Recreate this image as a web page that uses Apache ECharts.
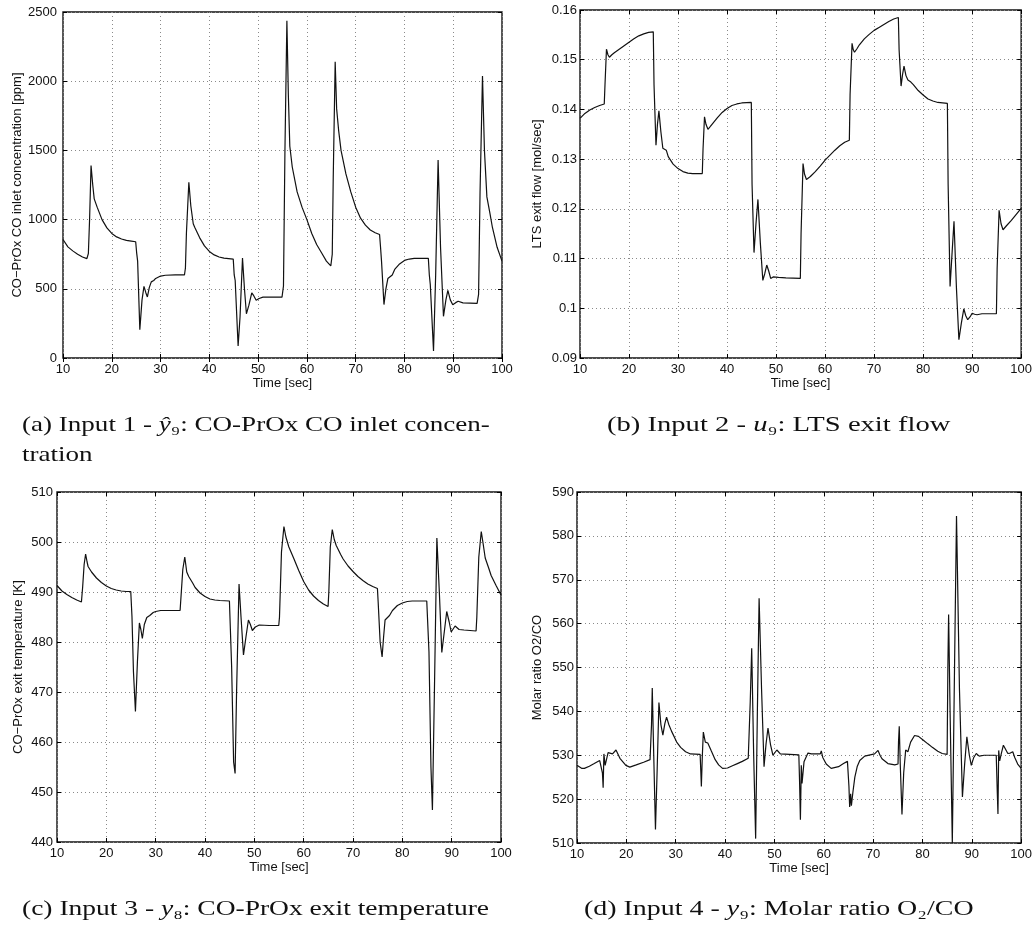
<!DOCTYPE html>
<html>
<head>
<meta charset="utf-8">
<script src="https://cdn.jsdelivr.net/npm/echarts@6/dist/echarts.min.js"></script>
<style>
html,body{margin:0;padding:0;background:#fff;}
#chart{width:1035px;height:926px;}
</style>
</head>
<body>
<div id="chart"></div>
<script>
// ---------- DATA ----------
const xTicks = { min: 10, max: 100, interval: 10 };

// (a) CO-PrOx CO inlet concentration [ppm]
const tA = [10,11,12,13,14,14.9,15.2,15.45,15.75,16.1,16.4,17,18,19,20,21,22,23,24,24.9,25.1,25.3,25.75,26.2,26.6,27.0,27.3,27.7,28.1,28.6,29,30,31,33,34.9,35.1,35.3,35.8,36.2,36.7,37,38,39,40,41,42,43,44.9,45.1,45.3,45.9,46.3,46.8,47.2,47.6,48.1,48.7,49.1,49.6,50.2,51,53,54.9,55.2,55.5,55.9,56.2,56.5,57,58,59,60,61,62,63,64,64.9,65.2,65.4,65.8,66.1,66.5,67,68,69,70,71,72,73,74,74.9,75.1,75.3,75.8,76.2,76.6,77,77.5,78,79,80,81,82,84.9,85.1,85.3,85.96,86.4,86.9,87.4,88,88.5,88.9,89.4,89.9,90.5,91,92,94.9,95.2,95.5,96,96.4,96.9,97.5,98,99,100];
const vA = [856,803,774,750,730,718,755,1000,1390,1250,1150,1090,1000,940,900,875,860,850,845,840,760,700,205,420,518,470,441,510,550,560,575,592,598,600,600,650,900,1270,1100,970,945,870,810,770,745,730,722,715,600,560,87,300,723,500,320,380,470,450,417,430,440,440,440,520,1500,2437,1900,1530,1380,1200,1090,1000,900,820,760,700,665,750,1300,2141,1800,1647,1500,1330,1200,1090,1010,960,925,905,892,800,700,386,500,574,565,600,640,680,705,715,720,720,600,530,51,600,1430,800,301,420,489,420,385,400,410,398,395,460,1200,2037,1500,1164,1050,950,800,700];
const yTicksA = { min: 0, max: 2500, interval: 500 };

// (b) LTS exit flow [mol/sec]
const tB = [10,11,12,13,14,14.95,15.1,15.4,15.7,16,16.5,17,18,19,20,21,22,23,24,24.95,25.1,25.5,25.8,26.1,26.5,26.9,27.3,27.6,28,29,30,31,32,33,34.95,35.1,35.4,35.7,36.1,36.6,37,38,39,40,41,42,43,44.95,45.1,45.5,45.9,46.3,46.8,47.3,47.7,48.1,48.5,48.9,49.4,49.8,50.5,52,54.95,55.1,55.5,55.8,56.2,57,58,59,60,61,62,63,64,64.95,65.1,65.5,65.75,66,66.5,67,68,69,70,71,72,73,74,74.95,75.1,75.5,75.8,76.1,76.5,76.9,77.5,78,79,80,81,82,83,84.95,85.1,85.5,85.9,86.3,86.8,87.3,87.8,88.3,88.7,89.1,89.6,90,90.5,91,92,94.95,95.1,95.5,95.9,96.3,97,98,99,100];
const vB = [0.1382,0.1392,0.1399,0.1404,0.1408,0.1411,0.145,0.1521,0.151,0.1505,0.151,0.1514,0.1521,0.1528,0.1535,0.1542,0.1548,0.1552,0.1555,0.1556,0.145,0.1328,0.137,0.1397,0.1355,0.1322,0.132,0.1318,0.1305,0.1290,0.1281,0.1275,0.1272,0.1271,0.1271,0.132,0.1385,0.137,0.136,0.1366,0.137,0.1383,0.1394,0.1402,0.1408,0.1411,0.1413,0.1414,0.125,0.1112,0.117,0.1219,0.113,0.1056,0.107,0.1087,0.1075,0.106,0.1063,0.1065,0.1062,0.1061,0.106,0.115,0.1291,0.127,0.1259,0.1265,0.1275,0.1286,0.1298,0.1308,0.1318,0.1327,0.1334,0.1338,0.143,0.1533,0.152,0.1515,0.1522,0.153,0.1542,0.1551,0.1559,0.1565,0.1571,0.1577,0.1582,0.1585,0.152,0.1447,0.147,0.1487,0.1468,0.1459,0.1455,0.145,0.1438,0.1429,0.1421,0.1417,0.1414,0.1412,0.125,0.1044,0.111,0.1175,0.104,0.0937,0.097,0.0999,0.0985,0.0977,0.0983,0.099,0.0988,0.0987,0.0989,0.0989,0.108,0.1197,0.117,0.1158,0.1166,0.1177,0.1189,0.1201];
const yTicksB = { min: 0.09, max: 0.16, interval: 0.01 };

// (c) CO-PrOx exit temperature [K]
const tC = [10,11,12,13,14,14.95,15.2,15.5,15.8,16.1,16.3,17,18,19,20,21,22,23,24,24.95,25.2,25.5,25.9,26.3,26.7,27.0,27.3,27.7,28.2,28.8,29.5,30,31,34.95,35.2,35.5,35.9,36.3,36.7,37.5,38,39,40,41,42,43,44.95,45.1,45.4,45.8,46.1,46.4,46.9,47.3,47.8,48.3,48.8,49.2,49.6,50.2,51,53,54.95,55.1,55.5,56,56.4,57,58,59,60,61,62,63,64,64.95,65.1,65.4,65.8,66.2,66.6,67.5,68,69,70,71,72,73,74,74.95,75.1,75.5,75.9,76.2,76.5,76.9,77.4,78,79,80,81,82,84.95,85.1,85.4,85.8,86.1,86.5,87.0,87.5,88.0,88.5,89.0,89.5,89.9,90.7,91.5,92.5,94.95,95.1,95.5,96,96.4,96.8,97.5,98,99,100];
const vC = [491.3,490.2,489.5,488.9,488.4,488.0,491,495.5,497.6,496,495.1,494,492.8,491.9,491.2,490.7,490.4,490.2,490.1,490.1,485,474,466.1,476,483.8,482.5,480.7,483.5,484.9,485.3,485.9,486.1,486.3,486.3,490,494.5,497.0,494,493.1,491.8,490.9,489.8,489.1,488.6,488.4,488.3,488.2,488,475,456,453.7,470,491.6,485,477.4,481,484.4,483.5,482.3,483,483.4,483.3,483.3,485,498,503.1,501,499,496.7,494.3,492.1,490.4,489.2,488.3,487.6,487.1,490,499,502.5,500.5,499.3,497.5,496.6,495.2,494.1,493.1,492.3,491.6,491.1,490.7,488,480,477.0,481,484.4,484.0,485.3,486.3,487.3,487.8,488.1,488.2,488.2,488,478,455,446.4,470,500.8,490,477.9,482,486.1,484,482.0,483.2,482.5,482.4,482.2,485,497,502.1,499.5,496.8,494.8,493.3,491.3,489.4];
const yTicksC = { min: 440, max: 510, interval: 10 };

// (d) Molar ratio O2/CO
const tD = [10,11,11.5,12.5,13.5,14.6,14.95,15.15,15.3,15.45,15.7,16.3,17.2,17.9,18.7,19.9,20.7,22,23.5,24.8,24.95,25.1,25.25,25.55,25.9,26.25,26.6,27.0,27.4,27.8,28.15,28.6,29.15,30.2,31,32,33,34.95,35.1,35.2,35.4,35.6,36.0,36.5,37.2,38,38.7,39.5,40.5,41.5,42.5,43.5,44.7,44.95,45.1,45.4,45.8,46.2,46.55,46.9,47.4,47.9,48.3,48.7,49.2,49.7,50.5,51.2,54.95,55.1,55.27,55.45,55.6,56.0,56.8,57.5,59.3,59.5,59.8,60.5,61.5,61.9,63,64,64.8,64.95,65.1,65.25,65.45,65.6,65.9,66.3,66.8,67.3,68.3,70.3,71.0,71.4,71.8,73.0,74.4,75.05,75.15,75.3,75.5,75.85,76.2,76.6,77.05,77.6,78.4,79.2,80,81.1,82,83.1,84,85.0,85.15,85.3,85.6,86.05,86.5,86.9,87.5,88.1,88.55,89.0,89.5,89.9,90.4,90.9,91.5,92.5,94.95,95.15,95.3,95.45,95.65,96.0,96.4,97.3,97.8,98.3,98.7,99.3,100];
const vD = [527.7,527.0,527.0,527.5,528.1,528.8,528.9,526,522.6,530.3,527.7,530.6,530.3,531.2,529.3,527.7,527.3,527.8,528.4,529.0,529.1,537,545.3,530,513.1,527,542,537,534.6,537.2,538.7,537,535.5,533,531.8,530.8,530.3,530.2,526,522.9,530,535.3,533.0,532.8,531,529,527.8,527.0,527.1,527.6,528.1,528.6,529.3,529.4,542,554.4,530,511.0,540,565.8,545,527.4,532.5,536.2,532.5,530.0,531.2,530.3,530.1,524,515.3,527.7,523.6,528.5,530.5,530.3,530.3,531.0,529.5,528,527,526.8,527.4,528.1,528.6,528.7,523,518.2,521.2,518.5,521.5,525,527.5,528.8,529.8,530.3,531.1,530,529.2,528.1,527.8,528.0,533,536.6,528,516.5,526,531.2,530.8,533,534.5,534.3,533.6,532.6,531.8,530.9,530.4,530.2,550,562.1,540,510,550,584.5,545,520.5,528,534.2,530,527.7,529.5,530.4,529.8,530,530.0,522,516.6,531.1,528.7,530.5,532.3,530.4,530.5,530.8,529.5,528,527];
const yTicksD = { min: 510, max: 590, interval: 10 };

const xName = 'Time [sec]';
const yNames = ['CO\u2212PrOx CO inlet concentration [ppm]', 'LTS exit flow [mol/sec]', 'CO\u2212PrOx exit temperature [K]', 'Molar ratio O2/CO'];

// ---------- LAYOUT ----------
const SANS = '"Liberation Sans", Arial, Helvetica, sans-serif';
const SERIF = '"Liberation Serif", "Times New Roman", serif';
const plain = v => String(v);
const panels = [
  { grid: { left: 63, top: 12, width: 439, height: 346 }, yt: yTicksA, t: tA, v: vA, nameGap: 38, labMargin: 6, fmt: plain },
  { grid: { left: 580, top: 10, width: 442, height: 348 }, yt: yTicksB, t: tB, v: vB, nameGap: 36, labMargin: 3, fmt: v => String(+v.toFixed(2)) },
  { grid: { left: 57, top: 492, width: 444, height: 350 }, yt: yTicksC, t: tC, v: vC, nameGap: 32, labMargin: 4, fmt: plain },
  { grid: { left: 577, top: 492, width: 445, height: 351 }, yt: yTicksD, t: tD, v: vD, nameGap: 33, labMargin: 3, fmt: plain }
];

const grids = [], xAxes = [], yAxes = [], series = [];
const tickStyle = { inside: true, length: 4, lineStyle: { color: '#000', width: 1 } };
const splitStyle = { show: true, lineStyle: { color: '#8a8a8a', type: [1, 3], width: 1 } };
const labStyle = { color: '#111', fontFamily: SANS, fontSize: 13 };
const nameStyle = { color: '#111', fontFamily: SANS, fontSize: 13 };

panels.forEach((p, i) => {
  grids.push(Object.assign({ show: true, borderColor: '#111', borderWidth: 1.4, backgroundColor: 'transparent' }, p.grid));
  xAxes.push({
    type: 'value', gridIndex: i, position: 'bottom', min: xTicks.min, max: xTicks.max, interval: xTicks.interval,
    axisLine: { show: false }, axisTick: tickStyle, splitLine: splitStyle,
    axisLabel: Object.assign({ margin: 5, formatter: plain }, labStyle),
    name: xName, nameLocation: 'middle', nameGap: 19, nameTextStyle: nameStyle
  });
  xAxes.push({
    type: 'value', gridIndex: i, position: 'top', min: xTicks.min, max: xTicks.max, interval: xTicks.interval,
    axisLine: { show: false }, axisTick: tickStyle, splitLine: { show: false }, axisLabel: { show: false }
  });
  yAxes.push({
    type: 'value', gridIndex: i, position: 'left', min: p.yt.min, max: p.yt.max, interval: p.yt.interval,
    axisLine: { show: false }, axisTick: tickStyle, splitLine: splitStyle,
    axisLabel: Object.assign({ margin: p.labMargin, formatter: p.fmt }, labStyle),
    name: yNames[i], nameLocation: 'middle', nameGap: p.nameGap, nameRotate: 90, nameTextStyle: nameStyle
  });
  yAxes.push({
    type: 'value', gridIndex: i, position: 'right', min: p.yt.min, max: p.yt.max, interval: p.yt.interval,
    axisLine: { show: false }, axisTick: tickStyle, splitLine: { show: false }, axisLabel: { show: false }
  });
  series.push({
    type: 'line', xAxisIndex: 2 * i, yAxisIndex: 2 * i,
    data: p.t.map((t, k) => [t, p.v[k]]),
    showSymbol: false, symbol: 'none', smooth: false, clip: true,
    lineStyle: { color: '#111', width: 1.2 }, animation: false
  });
});

// ---------- CAPTIONS ----------
const capRich = { i: { fontStyle: 'italic', fontFamily: SERIF, fontSize: 22, fill: '#111' } };
function caption(x, y, sx, text) {
  return {
    type: 'text', x: x, y: y, scaleX: sx, silent: true,
    style: { text: text, fontFamily: SERIF, fontSize: 22, fill: '#111', verticalAlign: 'middle', align: 'left', rich: capRich }
  };
}
const graphics = [
  caption(22, 425, 1.23, '(a) Input 1 - {i|\u0177}\u2089: CO-PrOx CO inlet concen-'),
  caption(22, 455, 1.23, 'tration'),
  caption(607, 425, 1.3, '(b) Input 2 - {i|u}\u2089: LTS exit flow'),
  caption(22, 909, 1.25, '(c) Input 3 - {i|y}\u2088: CO-PrOx exit temperature'),
  caption(584, 909, 1.27, '(d) Input 4 - {i|y}\u2089: Molar ratio O\u2082/CO')
];

const chart = echarts.init(document.getElementById('chart'), null, { renderer: 'canvas' });
chart.setOption({
  animation: false,
  backgroundColor: '#fff',
  grid: grids,
  xAxis: xAxes,
  yAxis: yAxes,
  series: series,
  graphic: graphics
});
</script>
</body>
</html>
